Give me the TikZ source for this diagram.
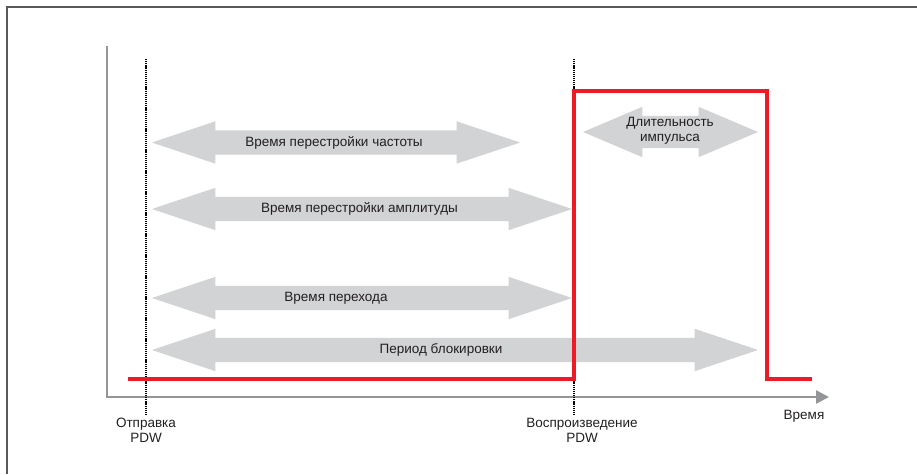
\documentclass[tikz,border=0pt]{standalone}
\usepackage{fontspec}
\setmainfont{Liberation Sans}
\usetikzlibrary{arrows.meta, positioning, shapes.arrows}
\definecolor{bandgray}{HTML}{D1D3D4}
\definecolor{axisgray}{HTML}{939598}
\definecolor{pulsered}{HTML}{ED1C24}
\definecolor{inkgray}{HTML}{231F20}
\definecolor{framegray}{HTML}{58595B}

\begin{document}
\begin{tikzpicture}[x=1pt, y=-1pt, >=Latex,
                    font=\fontsize{13.5}{15}\selectfont, text=inkgray,
                    span/.style={double arrow, fill=bandgray, draw=none,
                                 inner xsep=0pt, inner ysep=12pt,
                                 double arrow head extend=9pt,
                                 double arrow tip angle=37, minimum height=#1},
                    axis/.style={axisgray, line width=2.5pt},
                    marker/.style={black, line width=1.2pt, dash pattern=on 1.2pt off 0.9pt},
                    pulse/.style={pulsered, line width=4pt}]

\useasboundingbox (0,0) rectangle (917,474);

% Frame
\draw[framegray, line width=1.3pt] (7,474) -- (7,7) -- (917,7);

% Axes
\coordinate (ytop) at (107,46);
\coordinate (xend) at (829,397);
\draw[axis, -{Triangle[length=13pt, width=13pt]}] (ytop) |- (xend);
\node (time) at (804,416) {Время};

% Marker labels
\node[align=center] (send) at (146,430) {Отправка\\PDW};
\node[align=center] (play) at (582,430) {Воспроизведение\\PDW};
\coordinate (sendtop) at (146,59);
\coordinate (playtop) at (574,59);

\draw[marker] (sendtop) -- (send.north);
\draw[marker] (playtop) -- (play.north -| playtop);

% Span arrows
\node[span=368] (freq) at (336,142.5) {};
\node[span=420] (ampl) at (362,209) {};
\node[span=420] (trans) at (362,298) {};
\node[span=606] (block) at (455,350) {};
\node[span=175, inner ysep=16pt, double arrow tip angle=46] (width) at (670.5,132) {};

\node (freqlbl) at (334,142.5) {Время перестройки частоты};
\node (ampllbl) at (359.5,209) {Время перестройки амплитуды};
\node (translbl) at (336,298) {Время перехода};
\node (blocklbl) at (441,350) {Период блокировки};
\node[align=center] (widthlbl) at (670,131) {Длительность\\импульса};

% Pulse
\coordinate (pstart) at (128,379);
\coordinate (prise) at (574,91);
\coordinate (pfall) at (767,379);
\coordinate (pend) at (812,379);
\draw[pulse] (pstart) -| (prise) -| (pfall) -- (pend);

\end{tikzpicture}
\end{document}
